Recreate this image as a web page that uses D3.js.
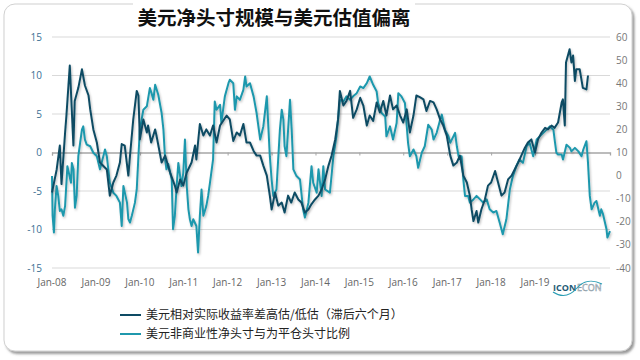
<!DOCTYPE html>
<html><head><meta charset="utf-8">
<script src="https://cdn.jsdelivr.net/npm/d3@7"></script>
<style>
html,body{margin:0;padding:0;background:#fff;}
svg{display:block;}
</style></head>
<body><svg id="c" width="640" height="360"></svg>
<script>
const titleText = "美元净头寸规模与美元估值偏离";
const legendLabels = ["美元相对实际收益率差高估/低估（滞后六个月）", "美元非商业性净头寸与为平仓头寸比例"];
const leftTicks = [15, 10, 5, 0, -5, -10, -15];
const rightTicks = [60, 50, 40, 30, 20, 10, 0, -10, -20, -30, -40];
const xDomain = ["2008-01-01", "2020-09-16"];
const xTickYears = [2008,2009,2010,2011,2012,2013,2014,2015,2016,2017,2018,2019];

// 美元相对实际收益率差高估/低估（滞后六个月） — left axis
const darkSeries = [
["2008-01-01",-5.2],["2008-02-09",-2.2],["2008-03-06",0.9],["2008-03-20",-4.1],["2008-04-19",2.6],["2008-04-30",4.8],
["2008-05-28",11.3],["2008-06-27",0.9],["2008-07-08",6.7],["2008-08-07",8.4],["2008-09-06",10.8],["2008-10-01",8.7],
["2008-10-31",7.4],["2008-11-14",5.6],["2008-12-10",3.0],["2009-01-08",1.3],["2009-02-03",-1.3],["2009-04-01",-2.2],
["2009-04-26",-5.6],["2009-05-25",-3.9],["2009-06-20",-3.0],["2009-07-19",-1.3],["2009-08-03",1.1],["2009-08-28",0.9],
["2009-09-27",-3.0],["2009-10-11",-0.4],["2009-11-07",4.3],["2009-12-06",8.0],["2009-12-20",7.4],["2010-01-01",1.7],
["2010-01-30",4.3],["2010-02-28",2.6],["2010-03-10",3.5],["2010-04-05",1.3],["2010-05-08",3.0],["2010-05-19",2.2],
["2010-07-01",-1.3],["2010-07-30",-0.4],["2010-09-09",-2.6],["2010-10-19",-4.3],["2010-11-03",-5.2],["2010-12-02",-3.5],
["2010-12-28",-4.3],["2011-01-26",-2.6],["2011-03-07",-1.3],["2011-04-05",0.9],["2011-04-16",-0.9],["2011-05-15",3.7],
["2011-06-13",2.2],["2011-07-08",3.0],["2011-08-07",2.2],["2011-09-02",3.5],["2011-10-01",1.3],["2011-10-30",3.5],
["2011-12-24",4.8],["2012-01-19",4.3],["2012-02-17",1.5],["2012-03-17",2.6],["2012-04-12",2.2],["2012-05-11",3.7],
["2012-06-06",1.3],["2012-07-05",1.3],["2012-08-04",0.2],["2012-08-29",-0.4],["2012-09-28",-0.4],["2012-10-24",-1.7],
["2012-11-22",-3.0],["2012-12-17",-5.6],["2013-01-01",-7.4],["2013-01-30",-5.2],["2013-02-25",-6.9],["2013-03-26",-6.5],
["2013-04-19",-7.8],["2013-05-18",-5.6],["2013-06-13",-6.5],["2013-07-12",-5.2],["2013-08-11",-6.1],["2013-09-06",-6.5],
["2013-10-05",-7.8],["2013-11-03",-7.4],["2013-11-29",-6.7],["2013-12-28",-6.1],["2014-01-26",-5.6],["2014-02-21",-4.8],
["2014-03-22",-3.5],["2014-04-19",-1.7],["2014-05-15",-0.4],["2014-06-14",1.7],["2014-07-08",4.3],["2014-07-23",8.0],
["2014-08-21",6.1],["2014-09-16",6.7],["2014-10-16",8.0],["2014-11-10",4.5],["2014-12-10",5.6],["2015-01-08",7.1],
["2015-02-03",6.1],["2015-03-04",3.5],["2015-03-28",4.8],["2015-04-26",4.1],["2015-05-25",6.5],["2015-06-20",5.2],
["2015-07-19",6.7],["2015-08-14",4.8],["2015-09-13",7.4],["2015-10-08",5.6],["2015-11-07",6.1],["2015-12-06",4.8],
["2016-01-01",3.9],["2016-01-30",5.6],["2016-02-25",2.6],["2016-03-26",4.8],["2016-04-19",7.4],["2016-05-18",7.2],
["2016-06-17",6.9],["2016-07-12",5.4],["2016-08-11",6.7],["2016-09-09",6.5],["2016-10-05",5.6],["2016-11-03",4.3],
["2016-11-29",3.5],["2016-12-28",2.2],["2017-01-26",-0.4],["2017-02-21",-1.7],["2017-03-22",-1.3],["2017-04-16",-0.4],
["2017-05-15",-3.0],["2017-06-13",-3.9],["2017-07-08",-5.6],["2017-07-23",-7.4],["2017-08-07",-8.9],["2017-09-02",-7.6],
["2017-09-16",-9.1],["2017-10-12",-7.4],["2017-11-10",-6.1],["2017-12-06",-4.3],["2018-01-01",-3.9],["2018-02-03",-2.4],
["2018-02-28",-3.9],["2018-03-28",-5.6],["2018-04-23",-5.2],["2018-05-22",-3.5],["2018-06-20",-3.0],["2018-07-16",-2.2],
["2018-08-14",-1.3],["2018-09-09",-0.4],["2018-10-08",0.6],["2018-11-03",1.3],["2018-12-02",1.7],["2019-01-01",0.0],
["2019-01-26",1.7],["2019-02-25",2.6],["2019-03-26",3.2],["2019-04-19",3.0],["2019-05-18",3.5],["2019-06-13",3.2],
["2019-07-12",3.9],["2019-08-11",6.5],["2019-08-21",6.9],["2019-09-06",3.5],["2019-09-16",11.7],["2019-10-16",13.4],
["2019-10-31",11.7],["2019-11-14",12.6],["2019-11-29",9.3],["2019-12-10",10.8],["2020-01-08",10.8],["2020-02-03",8.4],
["2020-03-04",8.2],["2020-03-17",10.0]
];

// 美元非商业性净头寸与为平仓头寸比例 — right axis
const tealSeries = [
["2008-01-01",-0.2],["2008-01-06",-17.4],["2008-01-17",-24.6],["2008-01-25",-14.6],["2008-02-08",-4.5],["2008-02-22",-8.8],
["2008-03-06",-15.3],["2008-03-20",-14.6],["2008-04-04",-17.4],["2008-04-19",-13.1],["2008-05-08",4.1],["2008-05-26",-0.2],
["2008-06-07",-3.1],["2008-06-14",5.5],["2008-06-28",2.7],["2008-07-10",-13.9],["2008-07-24",-8.8],["2008-08-07",8.4],
["2008-08-22",14.2],["2008-09-06",19.9],["2008-09-17",21.3],["2008-10-01",15.6],["2008-10-16",13.4],["2008-11-14",12.7],
["2008-12-10",9.9],["2009-01-08",8.4],["2009-02-03",2.7],["2009-03-03",8.4],["2009-03-17",11.3],["2009-04-01",8.4],
["2009-04-26",-3.1],["2009-05-25",-7.4],["2009-06-20",-8.8],["2009-07-19",-11.7],["2009-08-03",-21.8],["2009-08-17",-4.5],
["2009-09-16",-11.7],["2009-09-27",-18.8],["2009-10-11",-20.3],["2009-10-26",-17.4],["2009-11-21",-11.7],["2009-12-06",-6.0],
["2009-12-20",8.4],["2010-01-01",19.9],["2010-01-30",28.5],["2010-02-28",30.0],["2010-03-25",37.9],["2010-04-08",35.7],
["2010-04-23",32.8],["2010-05-08",39.3],["2010-06-03",35.0],["2010-07-01",27.1],["2010-07-16",19.9],["2010-07-30",7.0],
["2010-08-10",2.7],["2010-08-25",5.0],["2010-09-23",-1.7],["2010-10-04",-23.2],["2010-10-19",-17.4],["2010-11-03",-4.5],
["2010-11-17",5.5],["2010-12-02",-0.2],["2010-12-13",-4.5],["2010-12-28",1.2],["2011-01-11",15.6],["2011-01-26",-4.5],
["2011-02-09",-14.6],["2011-02-21",-18.9],["2011-03-07",-21.8],["2011-03-21",-18.9],["2011-04-16",-21.8],["2011-04-30",-33.3],
["2011-05-15",-17.4],["2011-05-29",-6.0],["2011-06-13",-17.4],["2011-07-08",-13.1],["2011-07-23",-8.8],["2011-08-07",-3.1],
["2011-09-02",7.0],["2011-09-16",32.1],["2011-10-01",28.5],["2011-10-30",30.6],["2011-11-10",22.8],["2011-12-09",34.3],
["2012-01-08",40.0],["2012-01-19",41.5],["2012-02-17",40.0],["2012-03-02",28.5],["2012-03-17",34.3],["2012-04-12",32.8],
["2012-05-11",37.1],["2012-05-26",42.9],["2012-06-06",38.6],["2012-07-05",40.0],["2012-08-04",34.3],["2012-08-29",27.1],
["2012-09-28",15.6],["2012-10-24",21.3],["2012-11-22",34.3],["2012-12-06",19.9],["2012-12-17",8.4],["2013-01-01",-1.7],
["2013-01-15",-8.8],["2013-02-10",-6.0],["2013-03-11",19.9],["2013-03-26",28.5],["2013-04-09",24.2],["2013-04-19",12.7],
["2013-05-04",8.4],["2013-06-03",32.8],["2013-06-17",19.9],["2013-07-01",2.7],["2013-07-27",-0.2],["2013-08-25",-1.7],
["2013-09-20",-14.6],["2013-10-05",-18.2],["2013-11-03",-11.7],["2013-11-29",4.1],["2013-12-13",-3.1],["2014-01-11",-7.4],
["2014-01-26",2.7],["2014-02-21",-8.8],["2014-03-07",4.1],["2014-03-22",-6.0],["2014-05-01",-7.4],["2014-05-30",8.4],
["2014-06-24",17.0],["2014-07-23",32.8],["2014-08-21",32.1],["2014-09-16",34.3],["2014-10-16",32.8],["2014-11-10",34.3],
["2014-12-10",35.7],["2015-01-08",38.6],["2015-02-03",37.9],["2015-03-04",40.0],["2015-03-28",42.9],["2015-04-26",39.3],
["2015-05-25",36.4],["2015-06-06",31.4],["2015-07-05",27.1],["2015-08-04",25.6],["2015-08-14",17.0],["2015-09-13",21.3],
["2015-10-08",15.6],["2015-11-07",22.8],["2015-11-21",35.7],["2015-12-17",34.3],["2016-01-15",31.4],["2016-02-10",14.2],
["2016-02-25",8.4],["2016-03-26",11.3],["2016-04-19",8.4],["2016-05-04",3.4],["2016-06-03",9.9],["2016-06-28",12.7],
["2016-07-27",22.0],["2016-08-25",19.9],["2016-09-09",15.6],["2016-10-05",18.5],["2016-11-03",24.2],["2016-11-17",26.4],
["2016-12-13",19.9],["2017-01-11",17.0],["2017-01-26",14.2],["2017-02-21",17.0],["2017-03-07",18.5],["2017-03-22",12.7],
["2017-04-05",8.4],["2017-04-30",8.4],["2017-05-15",-1.7],["2017-05-29",-8.8],["2017-06-24",-8.8],["2017-07-08",-11.7],
["2017-08-07",-10.3],["2017-09-02",-8.8],["2017-10-01",-10.3],["2017-10-27",-11.7],["2017-11-25",-10.3],["2017-12-20",-14.6],
["2018-01-19",-16.0],["2018-02-14",-15.3],["2018-03-13",-20.3],["2018-04-08",-25.4],["2018-05-08",-18.9],["2018-06-06",-6.0],
["2018-07-01",-0.2],["2018-07-30",4.1],["2018-08-25",7.0],["2018-09-23",5.5],["2018-10-23",12.7],["2018-11-17",14.2],
["2018-12-17",8.4],["2019-01-15",15.6],["2019-02-10",17.0],["2019-03-11",18.5],["2019-04-09",19.9],["2019-05-04",21.3],
["2019-06-03",19.9],["2019-06-17",14.2],["2019-06-28",9.9],["2019-07-12",9.1],["2019-08-11",9.1],["2019-08-22",7.0],
["2019-09-20",13.4],["2019-10-19",12.0],["2019-10-31",10.5],["2019-11-29",12.0],["2019-12-28",10.5],["2020-01-23",8.4],
["2020-02-07",11.3],["2020-03-04",14.9],["2020-03-17",5.5],["2020-04-01",-8.8],["2020-04-16",-14.6],["2020-05-11",-11.7],
["2020-05-26",-11.0],["2020-06-24",-17.4],["2020-07-05",-14.6],["2020-07-20",-16.7],["2020-08-18",-23.2],["2020-08-25",-26.8],
["2020-09-16",-24.0]
];

const colors = { dark: "#0e4b64", teal: "#1f98ad" };

const parse = d3.timeParse("%Y-%m-%d");
const svg = d3.select("#c");
const cjk = "'Noto Sans CJK SC', 'Noto Sans', sans-serif";
const latin = "'Open Sans', 'Noto Sans', 'DejaVu Sans', sans-serif";

const defs = svg.append("defs");
const sh = defs.append("filter").attr("id","frameShadow").attr("x","-5%").attr("y","-5%").attr("width","112%").attr("height","115%");
sh.append("feDropShadow").attr("dx",2).attr("dy",2.5).attr("stdDeviation",1.2).attr("flood-color","#555").attr("flood-opacity",0.6);
const lsh = defs.append("filter").attr("id","lineShadow").attr("x","-5%").attr("y","-5%").attr("width","110%").attr("height","110%");
lsh.append("feDropShadow").attr("dx",1).attr("dy",1.5).attr("stdDeviation",1).attr("flood-color","#000").attr("flood-opacity",0.25);

// frame
svg.append("rect").attr("x",4).attr("y",4).attr("width",628).attr("height",347).attr("rx",11)
  .attr("fill","#fff").attr("stroke","#d0d0d0").attr("stroke-width",1).attr("filter","url(#frameShadow)");

const x = d3.scaleTime().domain(xDomain.map(parse)).range([52, 610]);
const yL = d3.scaleLinear().domain([-15, 15]).range([268, 37]);
const yR = d3.scaleLinear().domain([-40, 60]).range([268, 37]);

// gridlines
svg.append("g").selectAll("line").data(leftTicks.filter(d => d !== 0)).join("line")
  .attr("x1", 52).attr("x2", 610).attr("y1", d => yL(d)).attr("y2", d => yL(d))
  .attr("stroke", "#d9d9d9").attr("stroke-width", 1);

// left axis labels
svg.append("g").selectAll("text").data(leftTicks).join("text")
  .attr("x", 42).attr("y", d => yL(d)).attr("dy", "0.35em").attr("text-anchor","end")
  .attr("font-family", latin).attr("font-size", 10).attr("fill", "#3b6f94").text(d => d);

// right axis labels
svg.append("g").selectAll("text").data(rightTicks).join("text")
  .attr("x", 616).attr("y", d => yR(d)).attr("dy", "0.35em").attr("text-anchor","start")
  .attr("font-family", latin).attr("font-size", 10).attr("fill", "#777").text(d => d);

// zero axis with year ticks
const xAxis = d3.axisBottom(x).tickValues(xTickYears.map(yv => new Date(yv, 0, 1))).tickSize(3).tickFormat("");
const axG = svg.append("g").attr("transform", `translate(0,${yL(0)})`).call(xAxis);
axG.select(".domain").attr("stroke", "#a6a6a6").attr("stroke-width", 1.3);
axG.selectAll(".tick line").attr("stroke", "#a6a6a6");

// bottom labels
svg.append("g").selectAll("text").data(xTickYears).join("text")
  .attr("x", yv => x(new Date(yv, 0, 1))).attr("y", 282).attr("dy","0.35em").attr("text-anchor","middle")
  .attr("font-family", latin).attr("font-size", 10).attr("fill", "#666")
  .text(yv => d3.timeFormat("%b-%y")(new Date(yv, 0, 1)));

// lines
const lineL = d3.line().x(d => x(parse(d[0]))).y(d => yL(d[1]));
const lineR = d3.line().x(d => x(parse(d[0]))).y(d => yR(d[1]));
svg.append("path").datum(tealSeries).attr("d", lineR).attr("fill","none")
  .attr("stroke", colors.teal).attr("stroke-width", 2).attr("stroke-linejoin","round").attr("filter","url(#lineShadow)");
svg.append("path").datum(darkSeries).attr("d", lineL).attr("fill","none")
  .attr("stroke", colors.dark).attr("stroke-width", 2).attr("stroke-linejoin","round").attr("filter","url(#lineShadow)");

// title
svg.append("rect").attr("x",133).attr("y",0).attr("width",282).attr("height",33).attr("fill","#fff");
svg.append("text").attr("x", 274).attr("y", 18).attr("dy","0.35em").attr("text-anchor","middle")
  .attr("font-family", cjk).attr("font-weight", 700).attr("font-size", 19.5).attr("fill","#111").text(titleText);

// legend
const lg = svg.append("g");
[colors.dark, colors.teal].forEach((c, i) => {
  const yy = 315 + i * 19;
  lg.append("line").attr("x1",120).attr("x2",141).attr("y1",yy).attr("y2",yy).attr("stroke",c).attr("stroke-width",2);
  lg.append("text").attr("x",146).attr("y",yy).attr("dy","0.35em").attr("font-family",cjk)
    .attr("font-size",12).attr("fill","#222").text(legendLabels[i]);
});

// logo
const logo = svg.append("g");
logo.append("text").attr("x",553).attr("y",291).attr("font-family",latin).attr("font-weight",700)
  .attr("font-size",9).attr("fill","#1e5a75").text("ICON");
logo.append("text").attr("x",577).attr("y",291).attr("font-family",latin).attr("font-size",9)
  .attr("fill","#fff").attr("stroke","#8a9aa5").attr("stroke-width",0.5).text("ECON");
logo.append("path").attr("d","M553,292 C562,298 570,296 577,288 C583,281 592,279 602,284")
  .attr("fill","none").attr("stroke","#2a9db3").attr("stroke-width",1.1);
</script></body></html>
